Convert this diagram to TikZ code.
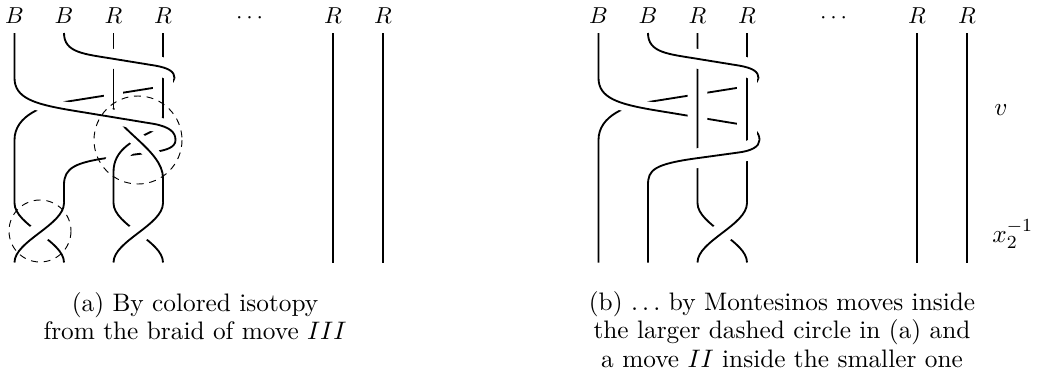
\documentclass[tikz,border=0pt]{standalone}
\begin{document}
\begin{tikzpicture}[x=0.4329pt,y=-0.4329pt,line cap=butt,line join=round,
strand/.style={line width=0.8pt},
over/.style={preaction={draw,white,line width=#1}},over/.default=6.5pt,
circ/.style={line width=0.4pt,dash pattern=on 3pt off 2.5pt},
lab/.style={anchor=base,inner sep=0pt},
captext/.style={anchor=north,align=center,inner sep=0pt,font=\fontsize{10.95}{12.3}\selectfont}]
\useasboundingbox (0,0) rectangle (1038,378);
% (a) colored isotopy
\begin{scope}[shift={(14.5,0)},name prefix=a-]
\foreach \l/\px [count=\i] in {B/0,B/49.5,R/99,R/148.5,\cdots/235,R/318.5,R/368.5}
  \node[lab] (top\i) at (\px,23.3) {$\l$};
\draw[strand] (160,78) .. controls (160,84) and (150,86) .. (138,88) -- (50,102)
  .. controls (30,105) and (0,115) .. (0,140) -- (0,203)
  .. controls (0,225) and (49.5,241) .. (49.5,262.5);
\draw[strand,over] (161,140) .. controls (161,147) and (153,150) .. (140,152) -- (100,157)
  .. controls (60,162) and (49.5,168) .. (49.5,185) -- (49.5,203);
\draw[strand,over=8.5pt] (148.5,33) -- (148.5,116) .. controls (148.5,124) and (142,129) .. (135,132.5)
  .. controls (118,141) and (99,150) .. (99,172) -- (99,203)
  .. controls (99,225) and (148.5,241) .. (148.5,262.5);
\draw[strand,over=8.5pt] (99,33) -- (99,108);
\draw[strand,over] (99,108) .. controls (99,128) and (148.5,150) .. (148.5,178) -- (148.5,203);
\draw[strand,over] (0,33) -- (0,78) .. controls (0,98) and (20,104) .. (55,110) -- (140,124)
  .. controls (155,127) and (161,132) .. (161,140);
\draw[strand,over=8.5pt] (49.5,33) .. controls (49.5,53) and (70,54) .. (100,59) -- (140,65.5)
  .. controls (155,68) and (160,72) .. (160,78);
% lower crossings
\draw[strand,over=9pt] (49.5,203) .. controls (49.5,225) and (0,241) .. (0,262.5);
\draw[strand,over=9pt] (148.5,203) .. controls (148.5,225) and (99,241) .. (99,262.5);
\draw[strand] (318.5,33) -- (318.5,262.5) (368.5,33) -- (368.5,262.5);
% dashed circles
\draw[circ] (123.5,140) circle (44);
\draw[circ] (25.5,231) circle (31);
\end{scope}
% (b) Montesinos moves
\begin{scope}[shift={(598.5,0)},name prefix=b-]
\foreach \l/\px [count=\i] in {B/0,B/49.5,R/99,R/148.5,\cdots/235,R/318.5,R/368.5}
  \node[lab] (top\i) at (\px,23.3) {$\l$};
\draw[strand] (160,78) .. controls (160,84) and (150,86) .. (138,88) -- (50,102)
  .. controls (30,105) and (0,115) .. (0,140) -- (0,262.5);
\draw[strand,over] (0,33) -- (0,78) .. controls (0,98) and (20,104) .. (55,110) -- (140,124)
  .. controls (155,127) and (161,132) .. (161,140);
\draw[strand,over=8.5pt] (99,33) -- (99,203) .. controls (99,225) and (148.5,241) .. (148.5,262.5);
\draw[strand,over=8.5pt] (148.5,33) -- (148.5,203);
\draw[strand,over=8.5pt] (49.5,33) .. controls (49.5,53) and (70,54) .. (100,59) -- (140,65.5)
  .. controls (155,68) and (160,72) .. (160,78);
\draw[strand,over=8.5pt] (161,140) .. controls (161,147) and (152,151) .. (140,152.5) -- (100,158)
  .. controls (55,164) and (49.5,170) .. (49.5,185) -- (49.5,262.5);
% lower crossing
\draw[strand,over=9pt] (148.5,203) .. controls (148.5,225) and (99,241) .. (99,262.5);
\draw[strand] (318.5,33) -- (318.5,262.5) (368.5,33) -- (368.5,262.5);
\end{scope}
\node[lab,font=\fontsize{10.95}{12.3}\selectfont] (v) at (1001,115) {$v$};
\node[lab,anchor=base west,font=\fontsize{10.95}{12.3}\selectfont] (x2) at (992,242) {$x_2^{-1}$};
% captions
\node[captext] (capa) at (195,292)
  {(a) By colored isotopy\\from the braid of move $III$};
\node[captext] (capb) at (782,291)
  {(b) $\ldots$ by Montesinos moves inside\\the larger dashed circle in (a) and\\a move $II$ inside the smaller one};
\end{tikzpicture}
\end{document}
